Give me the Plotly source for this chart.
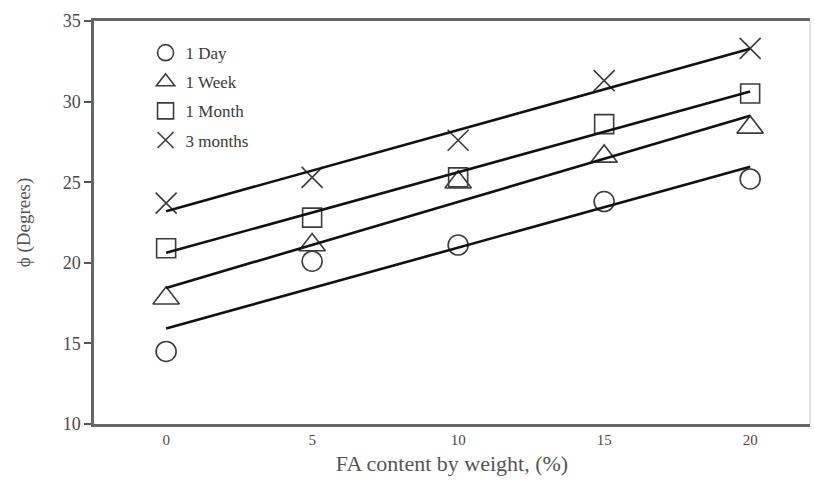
import numpy as np
import plotly.graph_objects as go

# FA content (% by weight)
fa_content = [0, 5, 10, 15, 20]

# Friction angle (degrees) at each curing period
phi_1_day = [14.5, 20.1, 21.1, 23.8, 25.2]
phi_1_week = [17.8, 21.1, 25.0, 26.6, 28.4]
phi_1_month = [20.9, 22.8, 25.3, 28.6, 30.5]
phi_3_months = [23.7, 25.3, 27.6, 31.3, 33.3]

series_names = ["1 Day", "1 Week", "1 Month", "3 months"]
series_values = [phi_1_day, phi_1_week, phi_1_month, phi_3_months]
symbols = ["circle-open", "triangle-up-open", "square-open", "x-thin-open"]
sizes = [20, 23, 19, 21]

y_ticks = [10, 15, 20, 25, 30, 35]
x_ticks = [0, 5, 10, 15, 20]

SERIF = "Liberation Serif"
MARK = "#3c3c3c"

fig = go.Figure()

# Measured points
for name, vals, sym, sz in zip(series_names, series_values, symbols, sizes):
    fig.add_trace(go.Scatter(
        x=fa_content, y=vals, mode="markers", name=name,
        legendgroup=name,
        marker=dict(symbol=sym, size=sz, color=MARK,
                    line=dict(color=MARK, width=1.6)),
    ))

# Least-squares trend line for each curing period
for name, vals in zip(series_names, series_values):
    slope, intercept = np.polyfit(fa_content, vals, 1)
    xs = [fa_content[0], fa_content[-1]]
    fig.add_trace(go.Scatter(
        x=xs, y=[intercept + slope * x for x in xs], mode="lines",
        line=dict(color="#111111", width=2.6), showlegend=False,
        hoverinfo="skip",
    ))

fig.update_layout(
    width=815, height=480,
    margin=dict(l=94, r=5, t=21, b=56),
    paper_bgcolor="white", plot_bgcolor="white",
    font=dict(family=SERIF, color="#4a4a4a"),
    showlegend=True,
    legend=dict(
        x=0.072, y=0.965, xanchor="left", yanchor="top",
        bgcolor="rgba(0,0,0,0)", borderwidth=0,
        font=dict(family=SERIF, size=17, color="#3a3a3a"),
        tracegroupgap=4, itemsizing="trace",
    ),
    xaxis=dict(
        range=[-2.47, 22.05], tickvals=x_ticks,
        ticktext=[str(v) for v in x_ticks],
        ticks="", showgrid=False, zeroline=False,
        showline=True, linecolor="#666666", linewidth=2.5, mirror=True,
        tickfont=dict(family=SERIF, size=15, color="#4a4a4a"),
        title=dict(text="FA content by weight, (%)",
                   font=dict(family=SERIF, size=22, color="#555555"),
                   standoff=9),
    ),
    yaxis=dict(
        range=[10, 35], tickvals=y_ticks,
        ticks="outside", ticklen=7, tickwidth=2, tickcolor="#555555",
        showgrid=False, zeroline=False,
        showline=True, linecolor="#666666", linewidth=2.5,
        tickfont=dict(family=SERIF, size=18, color="#4a4a4a"),
        title=dict(text="ϕ (Degrees)",
                   font=dict(family=SERIF, size=19, color="#555555"),
                   standoff=28),
    ),
    shapes=[dict(type="line", xref="paper", yref="paper",
                 x0=1, x1=1, y0=0, y1=1,
                 line=dict(color="#c8c8c8", width=1))],
)

fig.write_html("out.html")
